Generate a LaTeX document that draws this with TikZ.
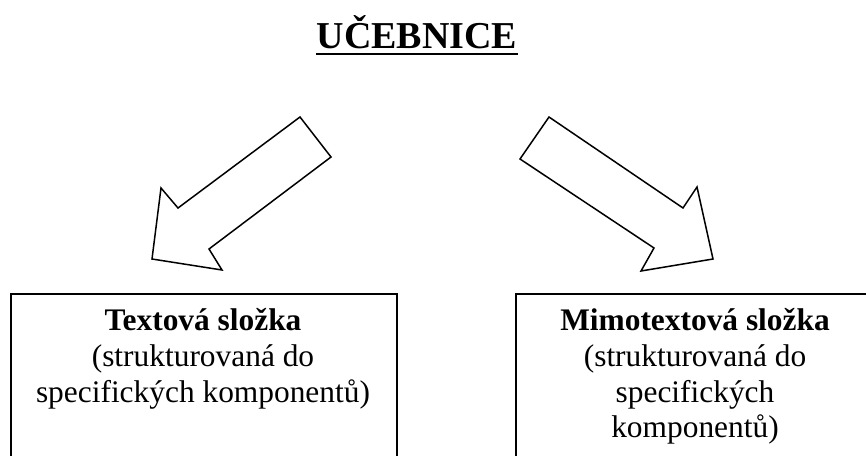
\documentclass[tikz,border=0pt]{standalone}
\usepackage{fontspec}
\setmainfont{Liberation Serif}
\usetikzlibrary{positioning}

\begin{document}
\begin{tikzpicture}[x=0.5pt, y=-0.5pt]
    % Define styles
    \tikzset{
      frame/.style={rectangle, draw, line width=1pt, inner sep=0pt, minimum height=120pt},
      boxtext/.style={align=center, inner sep=0pt, anchor=north, font=\fontsize{15.7}{17.9}\selectfont},
      blockarrow/.style={draw, line width=0.75pt, fill=white, line join=miter}
    }
    \useasboundingbox (0,0) rectangle (866,455);
    \clip (0,0) rectangle (866,455);

    % Title
    \node [font=\fontsize{19}{20}\selectfont\bfseries, anchor=base, inner sep=0pt] (title) at (417,48) {UČEBNICE};
    \draw [line width=1pt] ([yshift=-3pt]title.base west) -- ([yshift=-3pt]title.base east);

    % Block arrows
    \draw [blockarrow] (300,117) -- (331,157) -- (209,249) -- (222,270) -- (152,259) -- (161,188) -- (178,208) -- cycle;
    \draw [blockarrow] (549,117) -- (520,159) -- (654,248) -- (641,271) -- (713,259) -- (697,187) -- (683,208) -- cycle;

    % Boxes (first baseline 12pt below the text node's top)
    \node [frame, anchor=north west, minimum width=193pt] (textframe) at (10,293) {};
    \node [frame, anchor=north west, minimum width=180pt] (mimoframe) at (515,293) {};
    \node [boxtext] (textova) at (203,306) {\rule{0pt}{12pt}\textbf{Textová složka}\\(strukturovaná do\\specifických komponentů)};
    \node [boxtext] (mimotextova) at (695,306) {\rule{0pt}{12pt}\textbf{Mimotextová složka}\\(strukturovaná do\\specifických\\komponentů)};
\end{tikzpicture}
\end{document}
